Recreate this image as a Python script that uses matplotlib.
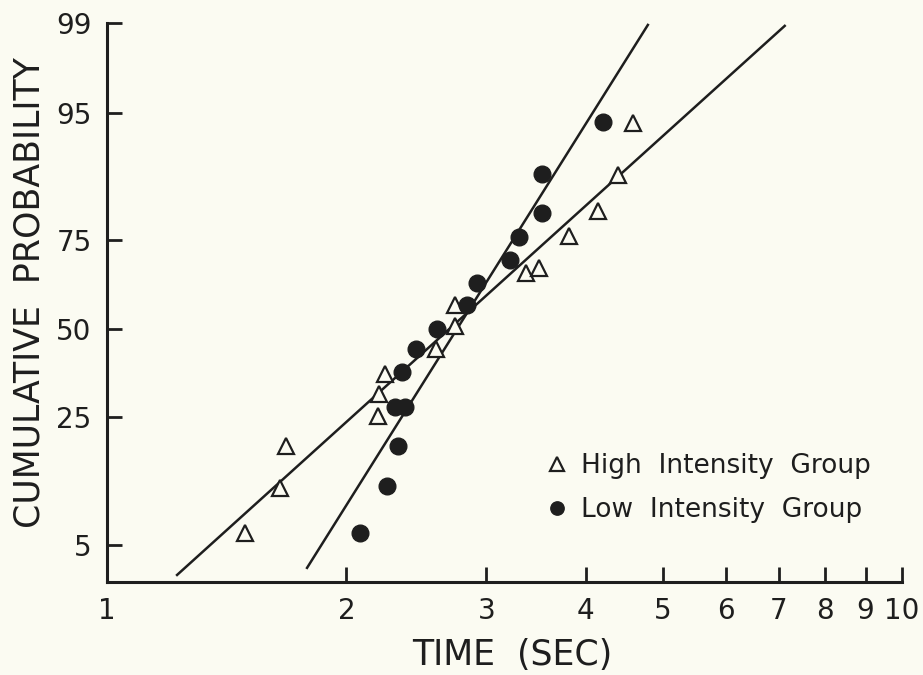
import numpy as np
import matplotlib
matplotlib.use("Agg")
import matplotlib.pyplot as plt
from statistics import NormalDist

# readings from the probability plot: time in sec, cumulative probability in %
high_time = [1.49, 1.65, 1.68, 2.19, 2.20, 2.24, 2.59, 2.74, 2.74, 3.37, 3.49, 3.81, 4.15, 4.39, 4.59]
high_prob = [6.0, 11.3, 18.5, 25.3, 30.9, 36.5, 43.9, 50.9, 57.0, 66.3, 67.7, 75.9, 81.5, 87.9, 94.1]
low_time = [2.08, 2.25, 2.32, 2.30, 2.37, 2.35, 2.45, 2.60, 2.84, 2.92, 3.21, 3.30, 3.53, 3.52, 4.21]
low_prob = [6.0, 11.5, 18.5, 27.5, 27.5, 37.0, 43.9, 50.0, 57.0, 63.5, 69.9, 75.7, 81.1, 88.1, 94.2]

# fitted lines (end points)
high_fit_time = [1.225, 7.12]
high_fit_prob = [3.03, 98.94]
low_fit_time = [1.785, 4.79]
low_fit_prob = [3.42, 98.96]

x_ticks = [1, 2, 3, 4, 5, 6, 7, 8, 9, 10]
y_ticks = [5, 25, 50, 75, 95, 99]

nd = NormalDist()


def probit(p):
    p = np.clip(np.asarray(p, dtype=float) / 100.0, 1e-9, 1 - 1e-9)
    return np.vectorize(nd.inv_cdf, otypes=[float])(p)


def inv_probit(z):
    return np.vectorize(nd.cdf, otypes=[float])(np.asarray(z, dtype=float)) * 100.0


bg = '#fbfbf2'
ink = '#1e1e1e'
plt.rcParams['font.family'] = ['DejaVu Sans']

fig = plt.figure(figsize=(9.23, 6.75), dpi=100, facecolor=bg)
ax = fig.add_axes([107 / 923, 1 - 582 / 675, 795 / 923, 559 / 675])
ax.set_facecolor(bg)

ax.set_xscale('log')
ax.set_yscale('function', functions=(probit, inv_probit))

ax.plot(high_fit_time, high_fit_prob, color=ink, lw=1.8)
ax.plot(low_fit_time, low_fit_prob, color=ink, lw=1.8)
ax.plot(high_time, high_prob, ls='none', marker='^', ms=12, mfc=bg, mec=ink, mew=1.6,
        label='High  Intensity  Group', zorder=3)
ax.plot(low_time, low_prob, ls='none', marker='o', ms=12, mfc=ink, mec=ink,
        label='Low  Intensity  Group', zorder=3)

ax.set_xlim(1, 10)
ax.set_ylim(2.68, 99)
ax.set_xticks(x_ticks)
ax.set_xticklabels([str(t) for t in x_ticks])
ax.xaxis.set_minor_locator(matplotlib.ticker.NullLocator())
ax.set_yticks(y_ticks)
ax.set_yticklabels([str(t) for t in y_ticks])
ax.yaxis.set_minor_locator(matplotlib.ticker.NullLocator())

for s in ['top', 'right']:
    ax.spines[s].set_visible(False)
for s in ['left', 'bottom']:
    ax.spines[s].set_linewidth(2.2)
    ax.spines[s].set_color(ink)
ax.tick_params(direction='in', length=11, width=2, color=ink, labelcolor=ink,
               labelsize=20, pad=11)

fig.text(30 / 923, 1 - 293 / 675, 'CUMULATIVE  PROBABILITY', rotation=90,
         ha='center', va='center', fontsize=25, color=ink)
fig.text(512 / 923, 1 - 655 / 675, 'TIME  (SEC)', ha='center', va='center',
         fontsize=25, color=ink)

leg = ax.legend(loc='center left', bbox_to_anchor=(0.52, 0.168), frameon=False,
                fontsize=19, markerscale=0.8, handletextpad=0.4, labelspacing=0.7,
                handlelength=1.0)
for t in leg.get_texts():
    t.set_color(ink)

fig.savefig('out.png', dpi=100, facecolor=bg)
